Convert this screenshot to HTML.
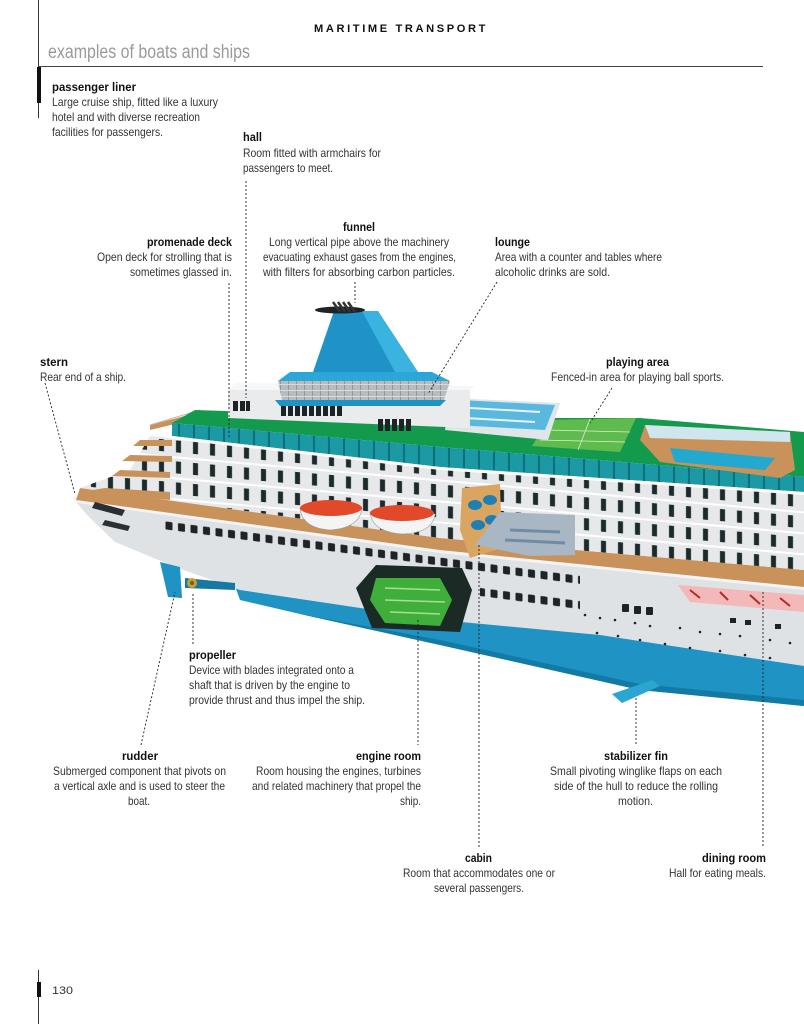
<!DOCTYPE html>
<html><head><meta charset="utf-8"><style>
html,body{margin:0;padding:0;background:#fff}
svg{display:block}
text{font-family:"Liberation Sans Narrow","Liberation Sans",sans-serif;font-size:12px;fill:#333}
.b{font-weight:bold;fill:#111}
.d{fill:none;stroke:#222;stroke-width:0.9;stroke-dasharray:2 2}
</style></head><body>
<svg width="804" height="1024" viewBox="0 0 804 1024" xmlns="http://www.w3.org/2000/svg">
<defs>
<pattern id="cab" width="17" height="21" patternUnits="userSpaceOnUse" patternTransform="skewY(5)">
<rect width="17" height="21" fill="#e6e8ea"/><rect x="0" y="0" width="17" height="2" fill="#fff"/>
<rect x="6" y="5" width="5" height="12" fill="#1c2a2c"/>
</pattern>
<pattern id="hw" width="12.5" height="60" patternUnits="userSpaceOnUse" patternTransform="skewY(7.5)">
<rect x="3" y="19.6" width="7" height="8" rx="1" fill="#1e2326"/>
</pattern>
<pattern id="hw2" width="12.5" height="60" patternUnits="userSpaceOnUse" patternTransform="skewY(7.5)">
<rect x="3" y="44.8" width="7" height="8" rx="1" fill="#1e2326"/>
</pattern>
<pattern id="teal" width="15" height="20" patternUnits="userSpaceOnUse" patternTransform="skewY(5)">
<rect width="15" height="20" fill="#1b9aa5"/><rect x="13" width="2" height="20" fill="#0d6f78"/>
</pattern>
<pattern id="grid" width="8" height="6" patternUnits="userSpaceOnUse">
<rect width="8" height="6" fill="#b8bcbf"/><rect width="1" height="6" fill="#8f9599"/><rect width="8" height="1" fill="#d8dbdd"/>
</pattern>
</defs>

<!-- header -->
<line x1="38.5" y1="0" x2="38.5" y2="118" stroke="#333" stroke-width="1"/>
<rect x="37" y="67" width="4" height="36" fill="#111"/>
<text x="314" y="32" class="b" style="font-size:11px;letter-spacing:2.6px" textLength="174" lengthAdjust="spacingAndGlyphs">MARITIME TRANSPORT</text>
<text x="48" y="58" style="font-size:19px;fill:#9a9a9a" textLength="202" lengthAdjust="spacingAndGlyphs">examples of boats and ships</text>
<line x1="38" y1="66.5" x2="763" y2="66.5" stroke="#444" stroke-width="1"/>

<!-- ship -->
<path d="M235,586 L440,618 L600,633 L804,664 L804,706 L640,690 L440,645 L300,614 L240,600 Z" fill="#1e93c4"/>
<path d="M300,614 L440,645 L640,690 L804,706 L804,700 L640,684 L440,640 Z" fill="#137aa6"/>
<path d="M72,497 L440,545 L804,580 L804,666 L600,635 L440,620 L240,590 L178,568 L115,542 L88,516 Z" fill="#dfe2e5"/>
<path d="M72,497 L440,545 L804,580 L804,590 L440,553 L78,503 Z" fill="#f3f4f5"/>
<path d="M80,488 L440,538 L804,570 L804,587 L440,550 L76,500 Z" fill="#c8925a"/>
<path d="M150,436 L440,467 L804,492 L804,570 L440,538 L80,488 L130,470 Z" fill="url(#cab)"/>
<path d="M105,488 L170,492 L170,500 L80,492 Z" fill="#c8925a"/>
<path d="M120,470 L170,472 L170,478 L112,476 Z" fill="#c8925a"/>
<path d="M130,455 L172,456 L172,462 L122,461 Z" fill="#c8925a"/>
<path d="M140,440 L172,440 L172,446 L133,446 Z" fill="#c8925a"/>
<path d="M150,425 L200,412 L200,418 L150,430 Z" fill="#c8925a"/>
<path d="M150,425 L200,410" stroke="#bbb" stroke-width="1"/>
<path d="M195,410 L440,418 L640,418 L804,432 L804,477 L440,447 L172,423 Z" fill="#149a4c"/>
<path d="M172,423 L440,447 L804,477 L804,492 L440,467 L172,436 Z" fill="url(#teal)"/>
<path d="M172,436 L440,467 L804,492 L804,495 L440,470 L172,439 Z" fill="#fff"/>
<path d="M645,425 L790,432 L795,470 L780,478 L660,462 L640,440 Z" fill="#c8925a"/>
<path d="M645,425 L790,432 L790,442 L650,438 Z" fill="#cfe6ee"/>
<path d="M670,448 L775,458 L765,470 L675,462 Z" fill="#23a8d0"/>
<path d="M548,420 L636,418 L620,452 L532,446 Z" fill="#5fbb4e"/>
<path d="M545,430 L630,432 M540,440 L625,442 M590,419 L578,450" stroke="#d9f0cf" stroke-width="0.8"/>
<path d="M450,398 L560,403 L548,440 L445,430 Z" fill="#dfe6ea"/>
<path d="M460,400 L555,405 L545,430 L455,425 Z" fill="#5ab8de"/>
<path d="M470,408 L540,412 M465,418 L535,422" stroke="#e8f2f6" stroke-width="2"/>
<path d="M228,390 L470,390 L470,428 L228,418 Z" fill="#e9ebec"/>
<path d="M228,390 L470,390 L475,386 L235,383 Z" fill="#f7f7f7"/>
<g fill="#1c2426">
<rect x="233" y="401" width="5" height="10"/><rect x="240" y="401" width="5" height="10"/><rect x="246" y="401" width="4" height="10"/>
<rect x="281" y="405" width="5" height="11"/><rect x="288" y="405" width="5" height="11"/><rect x="295" y="405" width="5" height="11"/><rect x="302" y="405" width="5" height="11"/><rect x="309" y="405" width="5" height="11"/><rect x="316" y="405" width="5" height="11"/><rect x="323" y="405" width="5" height="11"/><rect x="330" y="405" width="5" height="11"/><rect x="337" y="405" width="5" height="11"/>
<rect x="378" y="419" width="5" height="12"/><rect x="385" y="419" width="5" height="12"/><rect x="392" y="419" width="5" height="12"/><rect x="399" y="419" width="5" height="12"/><rect x="406" y="419" width="5" height="12"/>
</g>
<path d="M278,381 L450,381 L444,400 L282,400 Z" fill="url(#grid)"/>
<path d="M275,400 L446,400 L440,406 L280,406 Z" fill="#1e93c4"/>
<path d="M290,372 L432,372 L450,381 L278,381 Z" fill="#2aa6d8"/>
<path d="M334,311 L378,311 L418,372 L313,372 Z" fill="#1f93c8"/>
<path d="M362,311 L378,311 L418,372 L395,372 Z" fill="#3bb3e0"/>
<ellipse cx="340" cy="310" rx="25" ry="3.5" fill="#1d2326"/>
<path d="M333,302 L340,312 M338,302 L345,312 M343,302 L350,312 M348,302 L355,312" stroke="#333" stroke-width="2.5"/>
<!-- hull windows -->
<path d="M165,518 L580,574 L580,586 L165,531 Z" fill="url(#hw)"/>
<path d="M480,586 L580,599 L580,612 L480,599 Z" fill="url(#hw2)"/>
<g fill="#1e2326">
<rect x="622" y="604" width="7" height="8" rx="1"/><rect x="634" y="606" width="7" height="8" rx="1"/><rect x="646" y="607" width="7" height="8" rx="1"/>
</g>
<path d="M95,502 L125,510 L122,516 L92,508 Z" fill="#2a2f33"/>
<path d="M105,520 L130,526 L128,531 L102,525 Z" fill="#2a2f33"/>
<g fill="#1d2326">
<circle cx="585" cy="615" r="1.3"/><circle cx="600" cy="618" r="1.3"/><circle cx="615" cy="620" r="1.3"/><circle cx="635" cy="623" r="1.3"/><circle cx="650" cy="626" r="1.3"/><circle cx="680" cy="628" r="1.3"/><circle cx="700" cy="632" r="1.3"/><circle cx="720" cy="634" r="1.3"/><circle cx="740" cy="636" r="1.3"/><circle cx="770" cy="640" r="1.3"/><circle cx="790" cy="643" r="1.3"/>
<circle cx="597" cy="633" r="1.3"/><circle cx="618" cy="636" r="1.3"/><circle cx="640" cy="640" r="1.3"/><circle cx="665" cy="644" r="1.3"/><circle cx="690" cy="648" r="1.3"/><circle cx="720" cy="651" r="1.3"/><circle cx="745" cy="655" r="1.3"/><circle cx="770" cy="658" r="1.3"/>
<rect x="730" y="618" width="6" height="5"/><rect x="745" y="620" width="6" height="5"/><rect x="775" y="624" width="6" height="5"/>
</g>
<path d="M300,508 Q330,498 362,508 Q360,528 330,530 Q302,528 300,508 Z" fill="#f4f4f4" stroke="#999" stroke-width="0.6"/>
<ellipse cx="331" cy="508" rx="31" ry="8" fill="#e2482a"/>
<path d="M370,512 Q400,503 435,514 Q433,533 402,534 Q372,532 370,512 Z" fill="#f4f4f4" stroke="#999" stroke-width="0.6"/>
<ellipse cx="402" cy="513" rx="32" ry="8" fill="#e2482a"/>
<path d="M462,488 L500,484 L502,548 L470,558 L460,530 Z" fill="#d9a560"/>
<ellipse cx="475" cy="505" rx="7" ry="5" fill="#1f7fb5"/><ellipse cx="490" cy="500" rx="7" ry="5" fill="#1f7fb5"/><ellipse cx="478" cy="525" rx="7" ry="5" fill="#1f7fb5"/><ellipse cx="492" cy="520" rx="7" ry="5" fill="#1f7fb5"/>
<path d="M500,512 L575,515 L575,555 L530,556 L475,545 Z" fill="#a9b6c4"/>
<path d="M510,530 L560,532 M505,540 L565,543" stroke="#6f8ba8" stroke-width="3"/>
<path d="M356,588 L376,565 L462,568 L472,590 L460,632 L372,628 Z" fill="#1b2a24"/>
<path d="M376,578 L440,578 L452,600 L440,626 L385,623 L370,600 Z" fill="#3fae3a"/>
<path d="M385,588 L440,590 M385,600 L445,602 M390,612 L440,614" stroke="#a6e08f" stroke-width="1.5"/>
<path d="M678,585 L804,595 L804,612 L690,602 Z" fill="#f3b8b8"/>
<path d="M690,590 L700,598 M720,592 L728,600 M750,595 L760,604 M780,598 L790,606" stroke="#b42a2a" stroke-width="2"/>
<path d="M160,562 L180,567 L182,598 L168,597 Z" fill="#1f93c4"/>
<path d="M185,578 L235,583 L235,590 L185,588 Z" fill="#1679a3"/>
<circle cx="192" cy="583" r="5" fill="#c9a030"/>
<circle cx="192" cy="583" r="2" fill="#7a5a10"/>
<path d="M612,694 L652,680 L660,686 L622,703 Z" fill="#2aa6d0"/>

<!-- connectors -->
<path class="d" d="M45,383 L75,494"/>
<path class="d" d="M229,283 L229,438"/>
<path class="d" d="M246,181 L246,398"/>
<path class="d" d="M355,282 L355,303"/>
<path class="d" d="M497,282 L428,394"/>
<path class="d" d="M612,388 L590,423"/>
<path class="d" d="M193,594 L193,645"/>
<path class="d" d="M141,745 L175,592"/>
<path class="d" d="M418,620 L418,745"/>
<path class="d" d="M636,698 L636,746"/>
<path class="d" d="M479,545 L479,848"/>
<path class="d" d="M763,592 L763,848"/>

<!-- labels -->
<text x="52" y="91" class="b" textLength="84" lengthAdjust="spacingAndGlyphs">passenger liner</text>
<text x="52" y="106" textLength="166" lengthAdjust="spacingAndGlyphs">Large cruise ship, fitted like a luxury</text>
<text x="52" y="121" textLength="148" lengthAdjust="spacingAndGlyphs">hotel and with diverse recreation</text>
<text x="52" y="136" textLength="111" lengthAdjust="spacingAndGlyphs">facilities for passengers.</text>

<text x="243" y="141" class="b" textLength="19" lengthAdjust="spacingAndGlyphs">hall</text>
<text x="243" y="157" textLength="138" lengthAdjust="spacingAndGlyphs">Room fitted with armchairs for</text>
<text x="243" y="172" textLength="90" lengthAdjust="spacingAndGlyphs">passengers to meet.</text>

<text x="343" y="231" class="b" textLength="32" lengthAdjust="spacingAndGlyphs">funnel</text>
<text x="269" y="246" textLength="180" lengthAdjust="spacingAndGlyphs">Long vertical pipe above the machinery</text>
<text x="263" y="261" textLength="193" lengthAdjust="spacingAndGlyphs">evacuating exhaust gases from the engines,</text>
<text x="263" y="276" textLength="192" lengthAdjust="spacingAndGlyphs">with filters for absorbing carbon particles.</text>

<text x="147" y="246" class="b" textLength="85" lengthAdjust="spacingAndGlyphs">promenade deck</text>
<text x="97" y="261" textLength="135" lengthAdjust="spacingAndGlyphs">Open deck for strolling that is</text>
<text x="130" y="276" textLength="102" lengthAdjust="spacingAndGlyphs">sometimes glassed in.</text>

<text x="495" y="246" class="b" textLength="35" lengthAdjust="spacingAndGlyphs">lounge</text>
<text x="495" y="261" textLength="167" lengthAdjust="spacingAndGlyphs">Area with a counter and tables where</text>
<text x="495" y="276" textLength="115" lengthAdjust="spacingAndGlyphs">alcoholic drinks are sold.</text>

<text x="40" y="366" class="b" textLength="28" lengthAdjust="spacingAndGlyphs">stern</text>
<text x="40" y="381" textLength="86" lengthAdjust="spacingAndGlyphs">Rear end of a ship.</text>

<text x="606" y="366" class="b" textLength="63" lengthAdjust="spacingAndGlyphs">playing area</text>
<text x="551" y="381" textLength="173" lengthAdjust="spacingAndGlyphs">Fenced-in area for playing ball sports.</text>

<text x="189" y="659" class="b" textLength="47" lengthAdjust="spacingAndGlyphs">propeller</text>
<text x="189" y="674" textLength="165" lengthAdjust="spacingAndGlyphs">Device with blades integrated onto a</text>
<text x="189" y="689" textLength="161" lengthAdjust="spacingAndGlyphs">shaft that is driven by the engine to</text>
<text x="189" y="704" textLength="176" lengthAdjust="spacingAndGlyphs">provide thrust and thus impel the ship.</text>

<text x="122" y="760" class="b" textLength="36" lengthAdjust="spacingAndGlyphs">rudder</text>
<text x="53" y="775" textLength="173" lengthAdjust="spacingAndGlyphs">Submerged component that pivots on</text>
<text x="54" y="790" textLength="171" lengthAdjust="spacingAndGlyphs">a vertical axle and is used to steer the</text>
<text x="128" y="805" textLength="22" lengthAdjust="spacingAndGlyphs">boat.</text>

<text x="356" y="760" class="b" textLength="65" lengthAdjust="spacingAndGlyphs">engine room</text>
<text x="256" y="775" textLength="165" lengthAdjust="spacingAndGlyphs">Room housing the engines, turbines</text>
<text x="252" y="790" textLength="169" lengthAdjust="spacingAndGlyphs">and related machinery that propel the</text>
<text x="400" y="805" textLength="21" lengthAdjust="spacingAndGlyphs">ship.</text>

<text x="604" y="760" class="b" textLength="64" lengthAdjust="spacingAndGlyphs">stabilizer fin</text>
<text x="550" y="775" textLength="172" lengthAdjust="spacingAndGlyphs">Small pivoting winglike flaps on each</text>
<text x="554" y="790" textLength="164" lengthAdjust="spacingAndGlyphs">side of the hull to reduce the rolling</text>
<text x="618" y="805" textLength="35" lengthAdjust="spacingAndGlyphs">motion.</text>

<text x="465" y="862" class="b" textLength="27" lengthAdjust="spacingAndGlyphs">cabin</text>
<text x="403" y="877" textLength="152" lengthAdjust="spacingAndGlyphs">Room that accommodates one or</text>
<text x="434" y="892" textLength="90" lengthAdjust="spacingAndGlyphs">several passengers.</text>

<text x="702" y="862" class="b" textLength="64" lengthAdjust="spacingAndGlyphs">dining room</text>
<text x="669" y="877" textLength="97" lengthAdjust="spacingAndGlyphs">Hall for eating meals.</text>

<line x1="38.5" y1="970" x2="38.5" y2="1024" stroke="#333" stroke-width="1"/>
<rect x="37" y="982" width="4" height="15" fill="#111"/>
<text x="52" y="994" style="font-family:'Liberation Sans',sans-serif;font-size:11px" textLength="21" lengthAdjust="spacingAndGlyphs">130</text>
</svg>
</body></html>
